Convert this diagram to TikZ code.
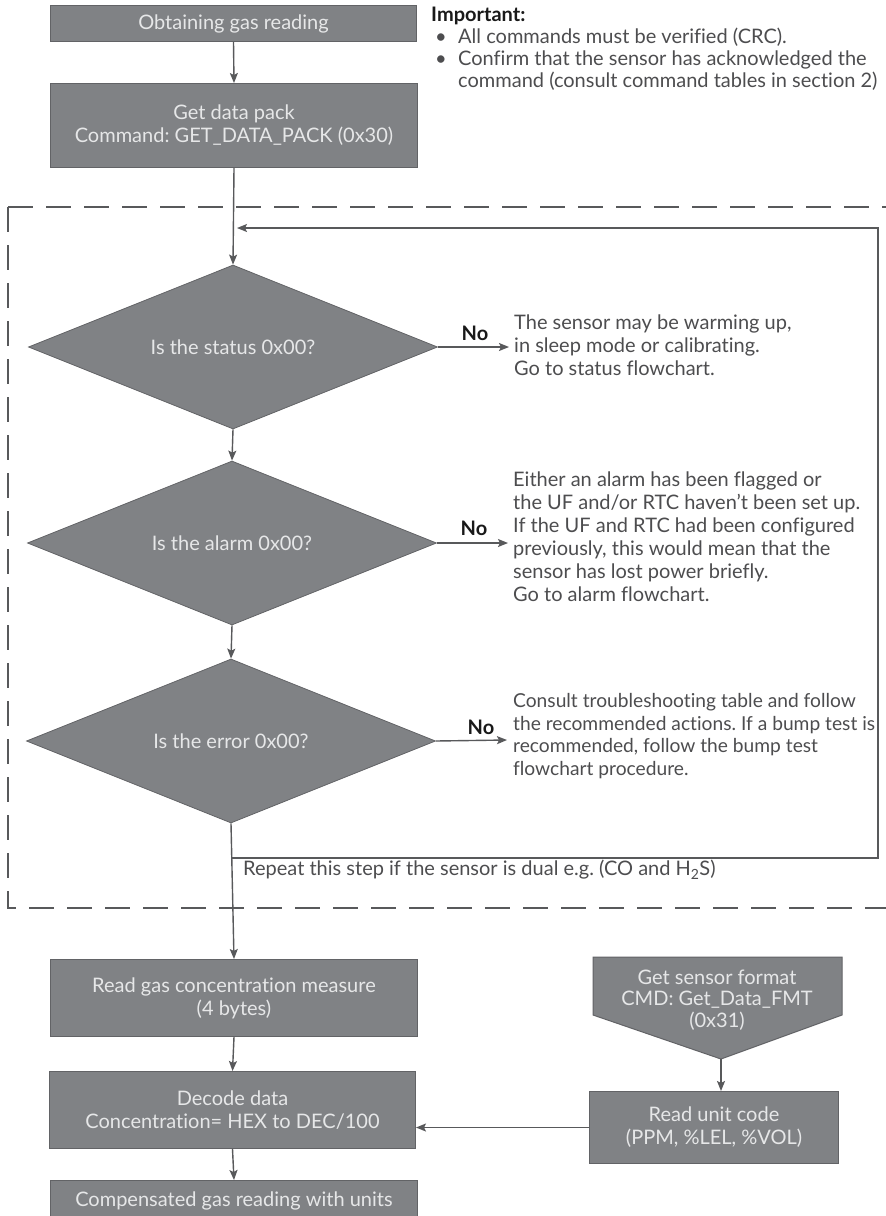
\documentclass[tikz,border=0pt]{standalone}
\usepackage{fontspec}
\setmainfont{Lato}[Ligatures=NoCommon]
\usetikzlibrary{shapes.geometric,arrows.meta}
\definecolor{boxfill}{HTML}{808285}
\definecolor{boxline}{HTML}{626366}
\definecolor{linecol}{HTML}{58595B}
\definecolor{txt}{HTML}{4D4D4F}
\definecolor{boxtxt}{HTML}{E6E7E8}
\frenchspacing
\begin{document}
\begin{tikzpicture}[x=1pt,y=-1pt,
  font=\fontsize{20}{23}\selectfont,
  proc/.style={draw=boxline, line width=1pt, fill=boxfill, text=boxtxt, align=center, inner sep=0pt, anchor=north west},
  dec/.style={diamond, draw=boxline, line width=0.8pt, fill=boxfill, text=boxtxt, inner sep=0pt, aspect=2.5, minimum width=409pt, minimum height=164pt},
  conn/.style={draw=linecol, line width=1.4pt, -{Stealth[length=10pt,width=8pt,inset=2pt]}},
  frame/.style={draw=linecol, line width=1.6pt, dash pattern=on 25pt off 13pt},
  note/.style={text=txt, align=left, anchor=west, inner sep=0pt},
  nolab/.style={font=\fontsize{20}{22}\selectfont\bfseries, text=black!90, inner sep=0pt}
]
\useasboundingbox[fill=white] (0,0) rectangle (886,1216);

% dashed frame
\draw[frame] (8,207) -- (900,207);
\draw[frame] (8,207) -- (8,908) -- (900,908);

% top boxes
\node[proc, minimum width=366pt, minimum height=36pt] (b1) at (50,5) {Obtaining gas reading};
\node[proc, minimum width=367pt, minimum height=84pt] (b2) at (50,83) {Get data pack\\Command: GET\_DATA\_PACK (0x30)};

% important note
\node[text=txt, anchor=north west, inner sep=0pt, align=left] (imp) at (431,7) {%
  \textbf{\color{black!90}Important:}\\[-1pt]
  \makebox[27pt][l]{\hspace{4pt}\textbullet}All commands must be verified (CRC).\\[-1pt]
  \makebox[27pt][l]{\hspace{4pt}\textbullet}Confirm that the sensor has acknowledged the\\[-1pt]
  \hspace{27pt}command (consult command tables in section 2)};

% decisions
\node[dec] (d1) at (233,347) {Is the status 0x00?};
\node[dec] (d2) at (232,543) {Is the alarm 0x00?};
\node[dec] (d3) at (231,741) {Is the error 0x00?};

% notes
\node[note] (t1) at (514,345) {The sensor may be warming up,\\in sleep mode or calibrating.\\Go to status flowchart.};
\node[note] (t2) at (513,537) {Either an alarm has been flagged or\\the UF and/or RTC haven't been set up.\\If the UF and RTC had been configured\\previously, this would mean that the\\sensor has lost power briefly.\\Go to alarm flowchart.};
\node[note, font=\fontsize{19.2}{22.5}\selectfont] (t3) at (513,736) {Consult troubleshooting table and follow\\the recommended actions. If a bump test is\\recommended, follow the bump test\\flowchart procedure.};

\node[nolab] (no1) at (475,333) {No};
\node[nolab] (no2) at (474,528) {No};
\node[nolab] (no3) at (481,727) {No};

\coordinate (e1) at (509,347);
\coordinate (e2) at (508,543);
\coordinate (e3) at (507,740);

% bottom boxes
\node[proc, minimum width=367pt, minimum height=77pt] (rg) at (50,959) {Read gas concentration measure\\(4 bytes)};
\node[proc, minimum width=366pt, minimum height=77pt] (dd) at (49,1071) {Decode data\\Concentration= HEX to DEC/100};
\node[proc, minimum width=367pt, minimum height=40pt] (cg) at (50,1180) {Compensated gas reading with units};
\node[proc, minimum width=249pt, minimum height=72pt] (ru) at (589,1091) {Read unit code\\(PPM, \%LEL, \%VOL)};

% pentagon
\draw[draw=boxline, line width=1pt, fill=boxfill] (593,957) -- (842,957) -- (842,1015) -- (721,1059) -- (593,1015) -- cycle;
\coordinate (gstip) at (721,1059);
\node[text=boxtxt, align=center, inner sep=0pt, font=\fontsize{20}{21.5}\selectfont] (gs) at (717,1000) {Get sensor format\\CMD: Get\_Data\_FMT\\(0x31)};

% repeat label
\node[note] (rep) at (243,870) {Repeat this step if the sensor is dual e.g. (CO and H\textsubscript{2}S)};

% connectors
\draw[conn] (b1.south) -- (b2.north);
\draw[conn] (b2.south) -- (d1.north);
\draw[conn] (d1.south) -- (d2.north);
\draw[conn] (d2.south) -- (d3.north);
\draw[conn] (d3.south) -- (rg.north);
\draw[conn] (d1.east) -- (e1);
\draw[conn] (d2.east) -- (e2);
\draw[conn] (d3.east) -- (e3);
\coordinate (j1) at (231,858);
\coordinate (j2) at (878,858);
\coordinate (j3) at (878,228);
\coordinate (j4) at (237,228);
\draw[conn] (j1) -- (j2) -- (j3) -- (j4);
\draw[conn] (rg.south) -- (dd.north);
\draw[conn] (dd.south) -- (cg.north);
\draw[conn] (gstip) -- (gstip |- ru.north);
\draw[conn] (ru.west) -- (ru.west -| dd.east);
\end{tikzpicture}
\end{document}
